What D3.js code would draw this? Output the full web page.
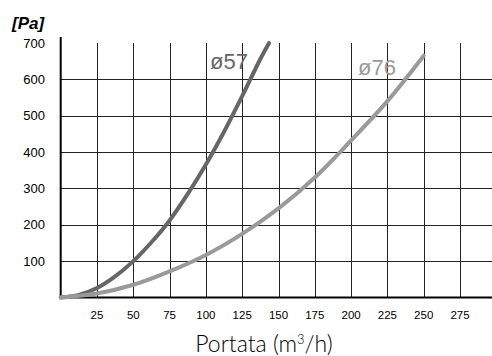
<!DOCTYPE html>
<html>
<head>
  <meta charset="UTF-8">
  <title>Portata / Pa</title>
  <script src="https://d3js.org/d3.v7.min.js"></script>
  <style>
    body { margin: 0; background: #fff; }
    svg { display: block; font-family: "Liberation Sans", Arial, sans-serif; }
    .grid line { stroke: #222; stroke-width: 1; }
    .tick-y { font-size: 13px; }
    .tick-x { font-size: 11.5px; }
  </style>
</head>
<body>
  <div id="chart"></div>
  <script>
    // flow (m3/h) and pressure drop (Pa)
    const q57 = [0, 12.5, 25, 37.5, 50, 62.5, 75, 87.5, 100, 112.5, 125, 137.5, 143.5];
    const p57 = [0, 7, 26, 58, 100, 152, 212, 285, 366, 456, 554, 656, 700];
    const q76 = [0, 25, 50, 75, 100, 125, 150, 175, 200, 225, 250];
    const p76 = [0, 11, 35, 72, 117, 175, 245, 330, 432, 540, 665];
    const xTicks = [25, 50, 75, 100, 125, 150, 175, 200, 225, 250, 275, 300];
    const yTicks = [100, 200, 300, 400, 500, 600, 700];
    const seriesNames = ["ø57", "ø76"];

    const W = 492, H = 356;
    const x = d3.scaleLinear().domain([0, 300]).range([60.7, 496.3]);
    const y = d3.scaleLinear().domain([0, 700]).range([297.5, 43]);

    const svg = d3.select("#chart").append("svg")
      .attr("width", W).attr("height", H);

    // grid
    const grid = svg.append("g").attr("class", "grid");
    grid.selectAll(".v").data(xTicks).enter().append("line")
      .attr("x1", d => Math.round(x(d)) + 0.5).attr("x2", d => Math.round(x(d)) + 0.5)
      .attr("y1", y(700)).attr("y2", y(0));
    grid.selectAll(".h").data(yTicks.filter(d => d < 700)).enter().append("line")
      .attr("x1", x(0)).attr("x2", W)
      .attr("y1", d => Math.round(y(d)) + 0.5).attr("y2", d => Math.round(y(d)) + 0.5);

    // axes lines
    svg.append("line").attr("x1", x(0)).attr("x2", x(0))
      .attr("y1", 37).attr("y2", y(0) + 1)
      .attr("stroke", "#000").attr("stroke-width", 2);
    svg.append("line").attr("x1", x(0)).attr("x2", W)
      .attr("y1", y(0)).attr("y2", y(0))
      .attr("stroke", "#000").attr("stroke-width", 2);

    // tick labels
    svg.selectAll(".tick-y").data(yTicks).enter().append("text")
      .attr("class", "tick-y")
      .attr("x", 45).attr("y", d => y(d))
      .attr("dy", "0.35em").attr("text-anchor", "end")
      .text(d => d);
    svg.selectAll(".tick-x").data(xTicks.filter(d => d < 300)).enter().append("text")
      .attr("class", "tick-x")
      .attr("x", d => x(d)).attr("y", 315)
      .attr("dy", "0.35em").attr("text-anchor", "middle")
      .text(d => d);

    // unit label
    svg.append("text")
      .attr("x", 12).attr("y", 29)
      .style("font-size", "17px").style("font-weight", "bold").style("font-style", "italic")
      .text("[Pa]");

    // x title
    const title = svg.append("text")
      .attr("x", 264).attr("y", 352)
      .attr("text-anchor", "middle")
      .style("font-family", "Lato, 'Noto Sans', sans-serif")
      .style("font-weight", 300)
      .style("font-size", "23px").attr("fill", "#000");
    title.append("tspan").text("Portata (m");
    title.append("tspan").attr("dy", -8).style("font-size", "13px").text("3");
    title.append("tspan").attr("dy", 8).text("/h)");

    // curves
    const line = d3.line().x(d => x(d[0])).y(d => y(d[1])).curve(d3.curveCatmullRom);
    const series = [
      { name: seriesNames[0], pts: d3.zip(q57, p57), color: "#666666", lx: 210, ly: 69 },
      { name: seriesNames[1], pts: d3.zip(q76, p76), color: "#9a9a9a", lx: 358, ly: 75 }
    ];
    svg.selectAll(".curve").data(series).enter().append("path")
      .attr("class", "curve")
      .attr("d", d => line(d.pts))
      .attr("fill", "none")
      .attr("stroke", d => d.color)
      .attr("stroke-width", 4)
      .attr("stroke-linecap", "round");

    svg.selectAll(".lbl").data(series).enter().append("text")
      .attr("class", "lbl")
      .attr("x", d => d.lx).attr("y", d => d.ly)
      .attr("fill", d => d.color)
      .style("font-size", "22px")
      .text(d => d.name);
  </script>
</body>
</html>
